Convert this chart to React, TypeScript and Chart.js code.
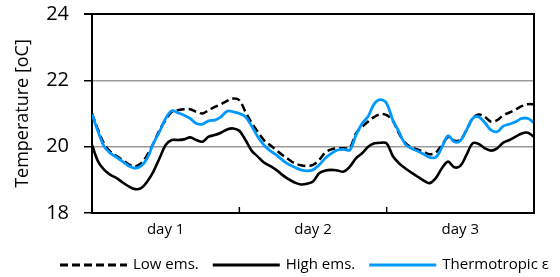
import React, { useEffect, useRef } from 'react';
import { Chart, registerables } from 'chart.js';

Chart.register(...registerables);

// Hours over three days (x axis, 0..72 h)
const hours: number[] = Array.from({ length: 73 }, (_, i) => i);

const lowEms: number[] = [
  21.0, 20.5, 20.08, 19.85, 19.72, 19.6, 19.47, 19.4, 19.5, 19.75,
  20.1, 20.5, 20.8, 21.05, 21.1, 21.13, 21.13, 21.05, 21.0, 21.1,
  21.2, 21.28, 21.38, 21.45, 21.4, 21.05, 20.72, 20.45, 20.2, 20.05,
  19.9, 19.75, 19.62, 19.5, 19.44, 19.42, 19.45, 19.6, 19.82, 19.92,
  19.95, 19.95, 19.97, 20.4, 20.6, 20.76, 20.9, 20.98, 20.95, 20.78,
  20.4, 20.12, 19.98, 19.92, 19.85, 19.77, 19.82, 20.05, 20.28, 20.18,
  20.2, 20.5, 20.85, 20.97, 20.9, 20.75, 20.8, 20.95, 21.03, 21.12,
  21.22, 21.28, 21.28,
];

const highEms: number[] = [
  20.05, 19.55, 19.3, 19.15, 19.05, 18.92, 18.8, 18.72, 18.75, 18.95,
  19.25, 19.65, 20.05, 20.2, 20.2, 20.22, 20.28, 20.2, 20.15, 20.3,
  20.35, 20.42, 20.52, 20.55, 20.48, 20.2, 19.88, 19.7, 19.52, 19.42,
  19.3, 19.15, 19.02, 18.92, 18.86, 18.88, 18.95, 19.2, 19.28, 19.3,
  19.28, 19.25, 19.4, 19.65, 19.8, 20.0, 20.1, 20.12, 20.1, 19.72,
  19.5, 19.35, 19.22, 19.1, 18.98, 18.9, 19.05, 19.35, 19.55, 19.38,
  19.42, 19.75, 20.1, 20.08, 19.95, 19.88, 19.95, 20.12, 20.2, 20.3,
  20.4, 20.42, 20.3,
];

const thermotropic: number[] = [
  20.98, 20.45, 20.0, 19.8, 19.68, 19.55, 19.42, 19.35, 19.42, 19.65,
  20.1, 20.45, 20.85, 21.08, 21.02, 20.95, 20.85, 20.7, 20.68, 20.78,
  20.8, 20.9, 21.07, 21.05, 21.0, 20.9, 20.62, 20.3, 20.05, 19.88,
  19.75, 19.6, 19.47, 19.38, 19.3, 19.27, 19.3, 19.45, 19.65, 19.8,
  19.9, 19.92, 19.9, 20.35, 20.7, 20.92, 21.3, 21.42, 21.3, 20.8,
  20.45, 20.08, 19.95, 19.87, 19.78, 19.68, 19.68, 19.98, 20.33, 20.15,
  20.18, 20.5, 20.85, 20.9, 20.72, 20.5, 20.45, 20.62, 20.68, 20.75,
  20.85, 20.85, 20.72,
];

const seriesNames: string[] = ['Low ems.', 'High ems.', 'Thermotropic ε'];
const dayLabels: string[] = ['day 1', 'day 2', 'day 3'];
const dayCenters: number[] = [12, 36, 60];
const dayBoundaries: number[] = [24, 48];
const yTickValues: number[] = [18, 20, 22, 24];

const FONT = "'Open Sans', 'DejaVu Sans', sans-serif";

const framePlugin = {
  id: 'framePlugin',
  afterDraw(chart: any) {
    const { ctx, chartArea, scales } = chart;
    ctx.save();
    // right frame line
    ctx.strokeStyle = '#000';
    ctx.lineWidth = 2;
    ctx.beginPath();
    ctx.moveTo(chartArea.right, chartArea.top - 1);
    ctx.lineTo(chartArea.right, chartArea.bottom);
    ctx.stroke();
    // inner day boundary ticks
    ctx.lineWidth = 1.5;
    dayBoundaries.forEach((v) => {
      const x = scales.x.getPixelForValue(v);
      ctx.beginPath();
      ctx.moveTo(x, chartArea.bottom);
      ctx.lineTo(x, chartArea.bottom - 6);
      ctx.stroke();
    });
    // legend
    const y = chartArea.bottom + 52;
    let x = 60;
    ctx.font = `15px ${FONT}`;
    ctx.textBaseline = 'middle';
    ctx.fillStyle = '#000';
    chart.data.datasets.forEach((ds: any) => {
      ctx.save();
      ctx.strokeStyle = ds.borderColor;
      ctx.lineWidth = 3;
      ctx.setLineDash(ds.borderDash || []);
      ctx.beginPath();
      ctx.moveTo(x, y);
      ctx.lineTo(x + 67, y);
      ctx.stroke();
      ctx.restore();
      x += 73;
      ctx.fillText(ds.label, x, y);
      x += ctx.measureText(ds.label).width + 14;
    });
    ctx.restore();
  },
};

export default function App() {
  const canvasRef = useRef<HTMLCanvasElement | null>(null);

  useEffect(() => {
    if (!canvasRef.current) return;
    const mk = (vals: number[]) => hours.map((h, i) => ({ x: h, y: vals[i] }));
    const chart = new Chart(canvasRef.current, {
      type: 'line',
      data: {
        datasets: [
          {
            label: seriesNames[0],
            data: mk(lowEms),
            borderColor: '#000000',
            borderWidth: 2.5,
            borderDash: [8, 4],
            pointRadius: 0,
            tension: 0.35,
            order: 2,
          },
          {
            label: seriesNames[1],
            data: mk(highEms),
            borderColor: '#000000',
            borderWidth: 2.6,
            pointRadius: 0,
            tension: 0.35,
            order: 1,
          },
          {
            label: seriesNames[2],
            data: mk(thermotropic),
            borderColor: '#0099FF',
            borderWidth: 2.8,
            pointRadius: 0,
            tension: 0.35,
            order: 0,
          },
        ],
      },
      options: {
        responsive: false,
        animation: false,
        devicePixelRatio: 1,
        layout: { padding: { left: 0, right: 26, top: 14, bottom: 0 } },
        plugins: {
          legend: { display: false },
          tooltip: { enabled: false },
        },
        scales: {
          x: {
            type: 'linear',
            min: 0,
            max: 72,
            afterBuildTicks: (scale: any) => {
              scale.ticks = dayCenters.map((v) => ({ value: v }));
            },
            afterFit: (scale: any) => {
              scale.height = 64;
            },
            ticks: {
              autoSkip: false,
              maxRotation: 0,
              color: '#000',
              font: { family: FONT, size: 15 },
              padding: 0,
              callback: (v: any) => {
                const i = dayCenters.indexOf(Number(v));
                return i >= 0 ? dayLabels[i] : '';
              },
            },
            grid: { display: false },
            border: { display: true, color: '#000', width: 2 },
          },
          y: {
            min: 18,
            max: 24,
            afterBuildTicks: (scale: any) => {
              scale.ticks = yTickValues.map((v) => ({ value: v }));
            },
            afterFit: (scale: any) => {
              scale.width = 92;
              scale.paddingTop = 0;
              scale.paddingBottom = 0;
            },
            ticks: {
              color: '#000',
              font: { family: FONT, size: 20 },
              padding: 15,
            },
            grid: {
              color: (c: any) => {
                const v = c.tick && c.tick.value;
                if (v === 24) return '#000';
                if (v === 18) return 'rgba(0,0,0,0)';
                return '#9a9a9a';
              },
              lineWidth: (c: any) => (c.tick && c.tick.value === 24 ? 2 : 1.5),
              tickColor: '#000',
              tickLength: 8,
              drawTicks: true,
            },
            border: { display: true, color: '#000', width: 2 },
            title: {
              display: true,
              text: 'Temperature [oC]',
              color: '#000',
              font: { family: FONT, size: 18 },
              padding: { top: 12, bottom: 0 },
            },
          },
        },
      },
      plugins: [framePlugin],
    } as any);
    return () => chart.destroy();
  }, []);

  return (
    <div style={{ position: 'absolute', left: 0, top: 0, width: 560, height: 277, background: '#fff' }}>
      <canvas ref={canvasRef} width={560} height={277} style={{ display: 'block' }} />
    </div>
  );
}
